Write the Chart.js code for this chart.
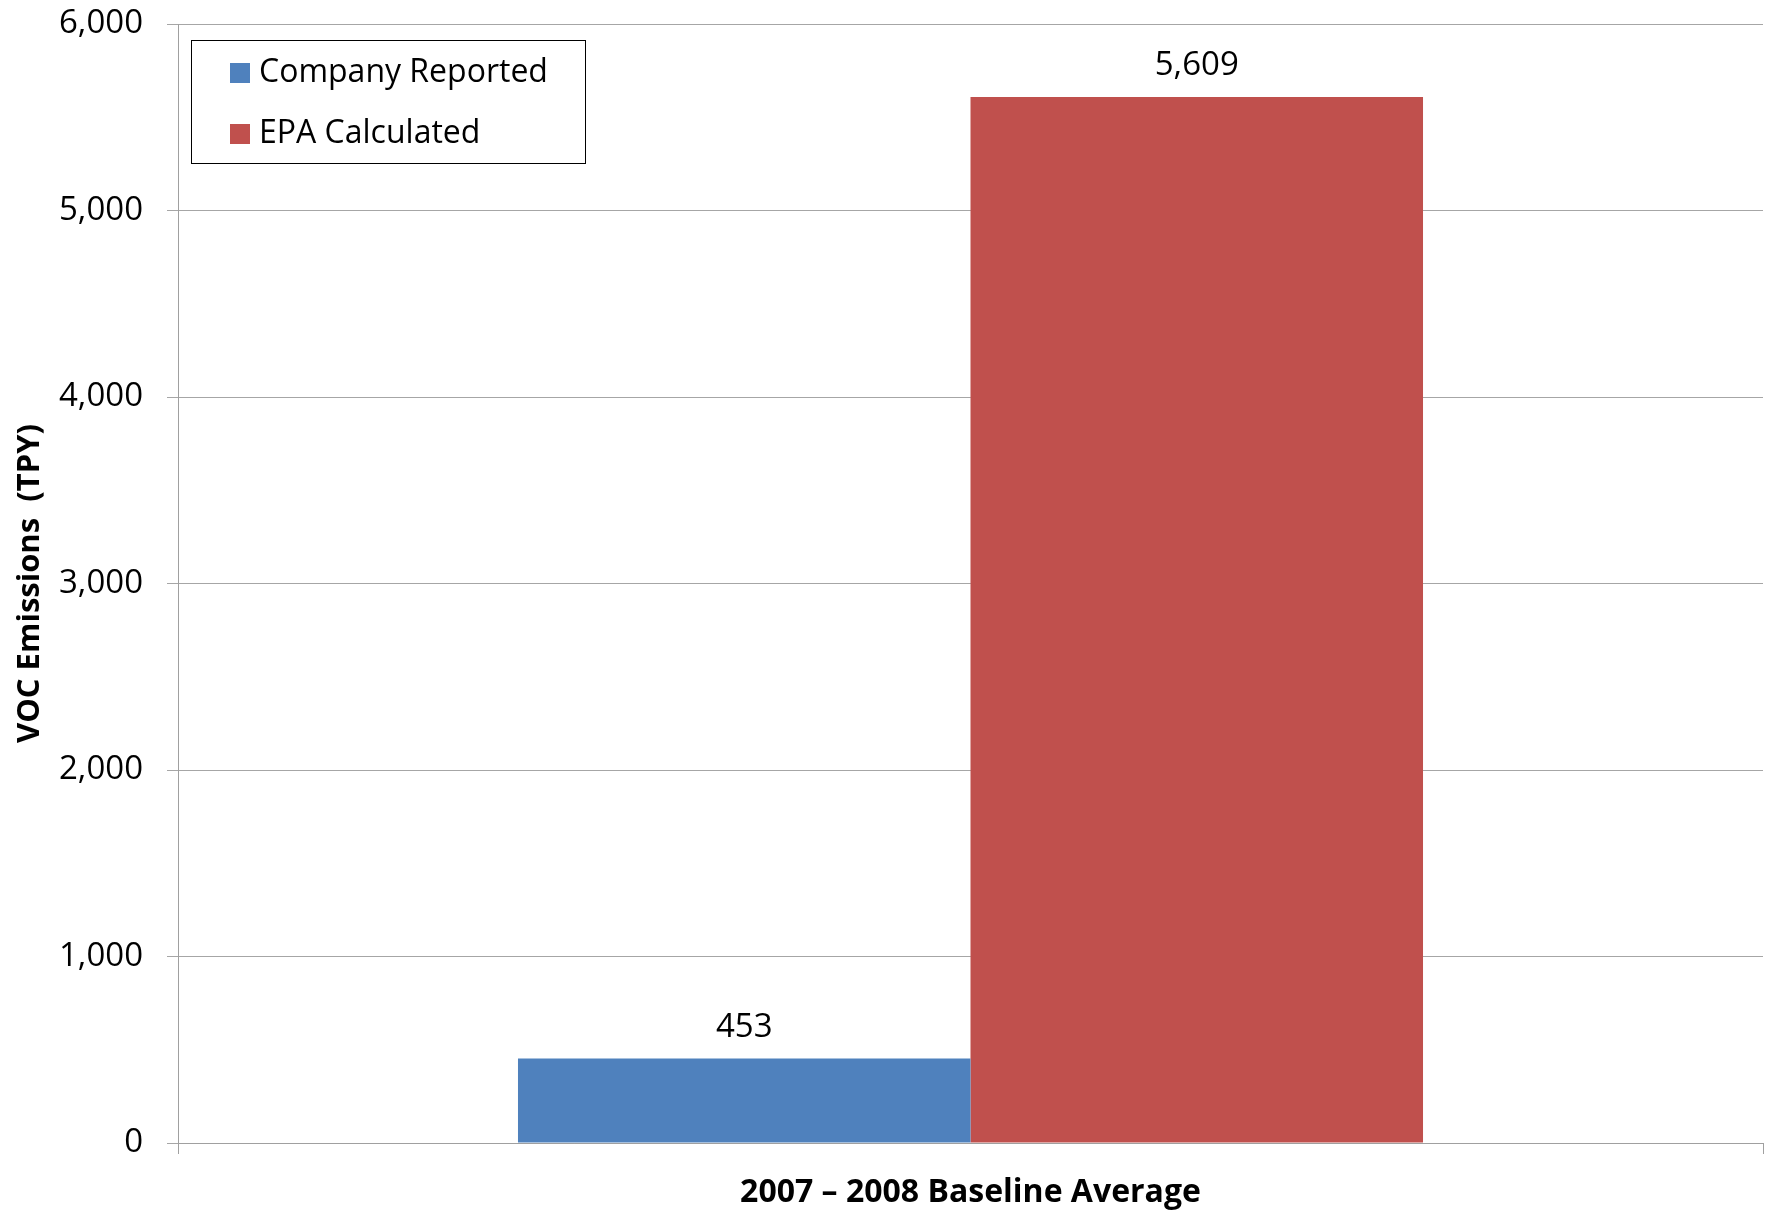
<!DOCTYPE html>
<html>
<head>
<meta charset="utf-8">
<script src="https://cdn.jsdelivr.net/npm/chart.js@4.4.0/dist/chart.umd.min.js"></script>
<style>
html,body{margin:0;padding:0;background:#fff;}
#wrap{width:1771px;height:1211px;}
</style>
</head>
<body>
<div id="wrap"><canvas id="c" width="1771" height="1211"></canvas></div>
<script>
const categories = ['2007 – 2008 Baseline Average'];
const seriesNames = ['Company Reported', 'EPA Calculated'];
const companyReported = [453];
const epaCalculated = [5609];
const yTicks = [0, 1000, 2000, 3000, 4000, 5000, 6000];
const colors = ['#4F81BD', '#C0504D'];

const FONT = "'Open Sans', 'Noto Sans', sans-serif";

const valueLabels = {
  id: 'valueLabels',
  afterDatasetsDraw(chart) {
    const ctx = chart.ctx;
    ctx.save();
    ctx.font = '33px ' + FONT;
    ctx.fillStyle = '#000';
    ctx.textAlign = 'center';
    ctx.textBaseline = 'middle';
    chart.data.datasets.forEach((ds, i) => {
      chart.getDatasetMeta(i).data.forEach((bar, j) => {
        ctx.fillText(ds.data[j].toLocaleString('en-US'), bar.x, bar.y - 31);
      });
    });
    ctx.restore();
  }
};

const boxLegend = {
  id: 'boxLegend',
  afterDraw(chart) {
    const ctx = chart.ctx;
    const x0 = 191, y0 = 40, w = 394, h = 123;
    ctx.save();
    ctx.fillStyle = '#fff';
    ctx.fillRect(x0, y0, w, h);
    ctx.strokeStyle = '#000';
    ctx.lineWidth = 1;
    ctx.strokeRect(x0 + 0.5, y0 + 0.5, w, h);
    ctx.font = '32px ' + FONT;
    ctx.textBaseline = 'middle';
    ctx.textAlign = 'left';
    chart.data.datasets.forEach((ds, i) => {
      const cy = y0 + 33 + i * 61;
      ctx.fillStyle = ds.backgroundColor;
      ctx.fillRect(x0 + 39, cy - 10, 20, 20);
      ctx.fillStyle = '#000';
      ctx.fillText(ds.label, x0 + 68, cy);
    });
    ctx.restore();
  }
};

new Chart(document.getElementById('c'), {
  type: 'bar',
  data: {
    labels: categories,
    datasets: [
      { label: seriesNames[0], data: companyReported, backgroundColor: colors[0], barPercentage: 1, categoryPercentage: 0.571 },
      { label: seriesNames[1], data: epaCalculated, backgroundColor: colors[1], barPercentage: 1, categoryPercentage: 0.571 }
    ]
  },
  options: {
    responsive: false,
    animation: false,
    layout: { padding: { top: 24, right: 8, left: 0, bottom: 0 } },
    plugins: { legend: { display: false }, tooltip: { enabled: false } },
    scales: {
      x: {
        grid: { display: true, drawOnChartArea: false, offset: true, color: '#a0a0a0', tickLength: 11 },
        border: { color: '#a0a0a0' },
        ticks: { color: '#000', font: { family: FONT, size: 32, weight: 'bold' }, padding: 20 },
        afterFit(scale) { scale.height = 68; scale.paddingLeft = 0; scale.paddingRight = 0; }
      },
      y: {
        min: 0, max: 6000,
        afterBuildTicks(scale) { scale.ticks = yTicks.map(v => ({ value: v })); },
        grid: { color: '#a6a6a6', tickLength: 11 },
        border: { color: '#a0a0a0' },
        ticks: { color: '#000', font: { family: FONT, size: 33 }, padding: 24,
                 callback: v => v.toLocaleString('en-US') },
        title: { display: true, text: 'VOC Emissions  (TPY)', color: '#000',
                 font: { family: FONT, size: 31, weight: 'bold' }, padding: { top: 12, bottom: 0 } },
        afterFit(scale) { scale.width = 178; scale.paddingTop = 0; scale.paddingBottom = 0; }
      }
    }
  },
  plugins: [valueLabels, boxLegend]
});
</script>
</body>
</html>
